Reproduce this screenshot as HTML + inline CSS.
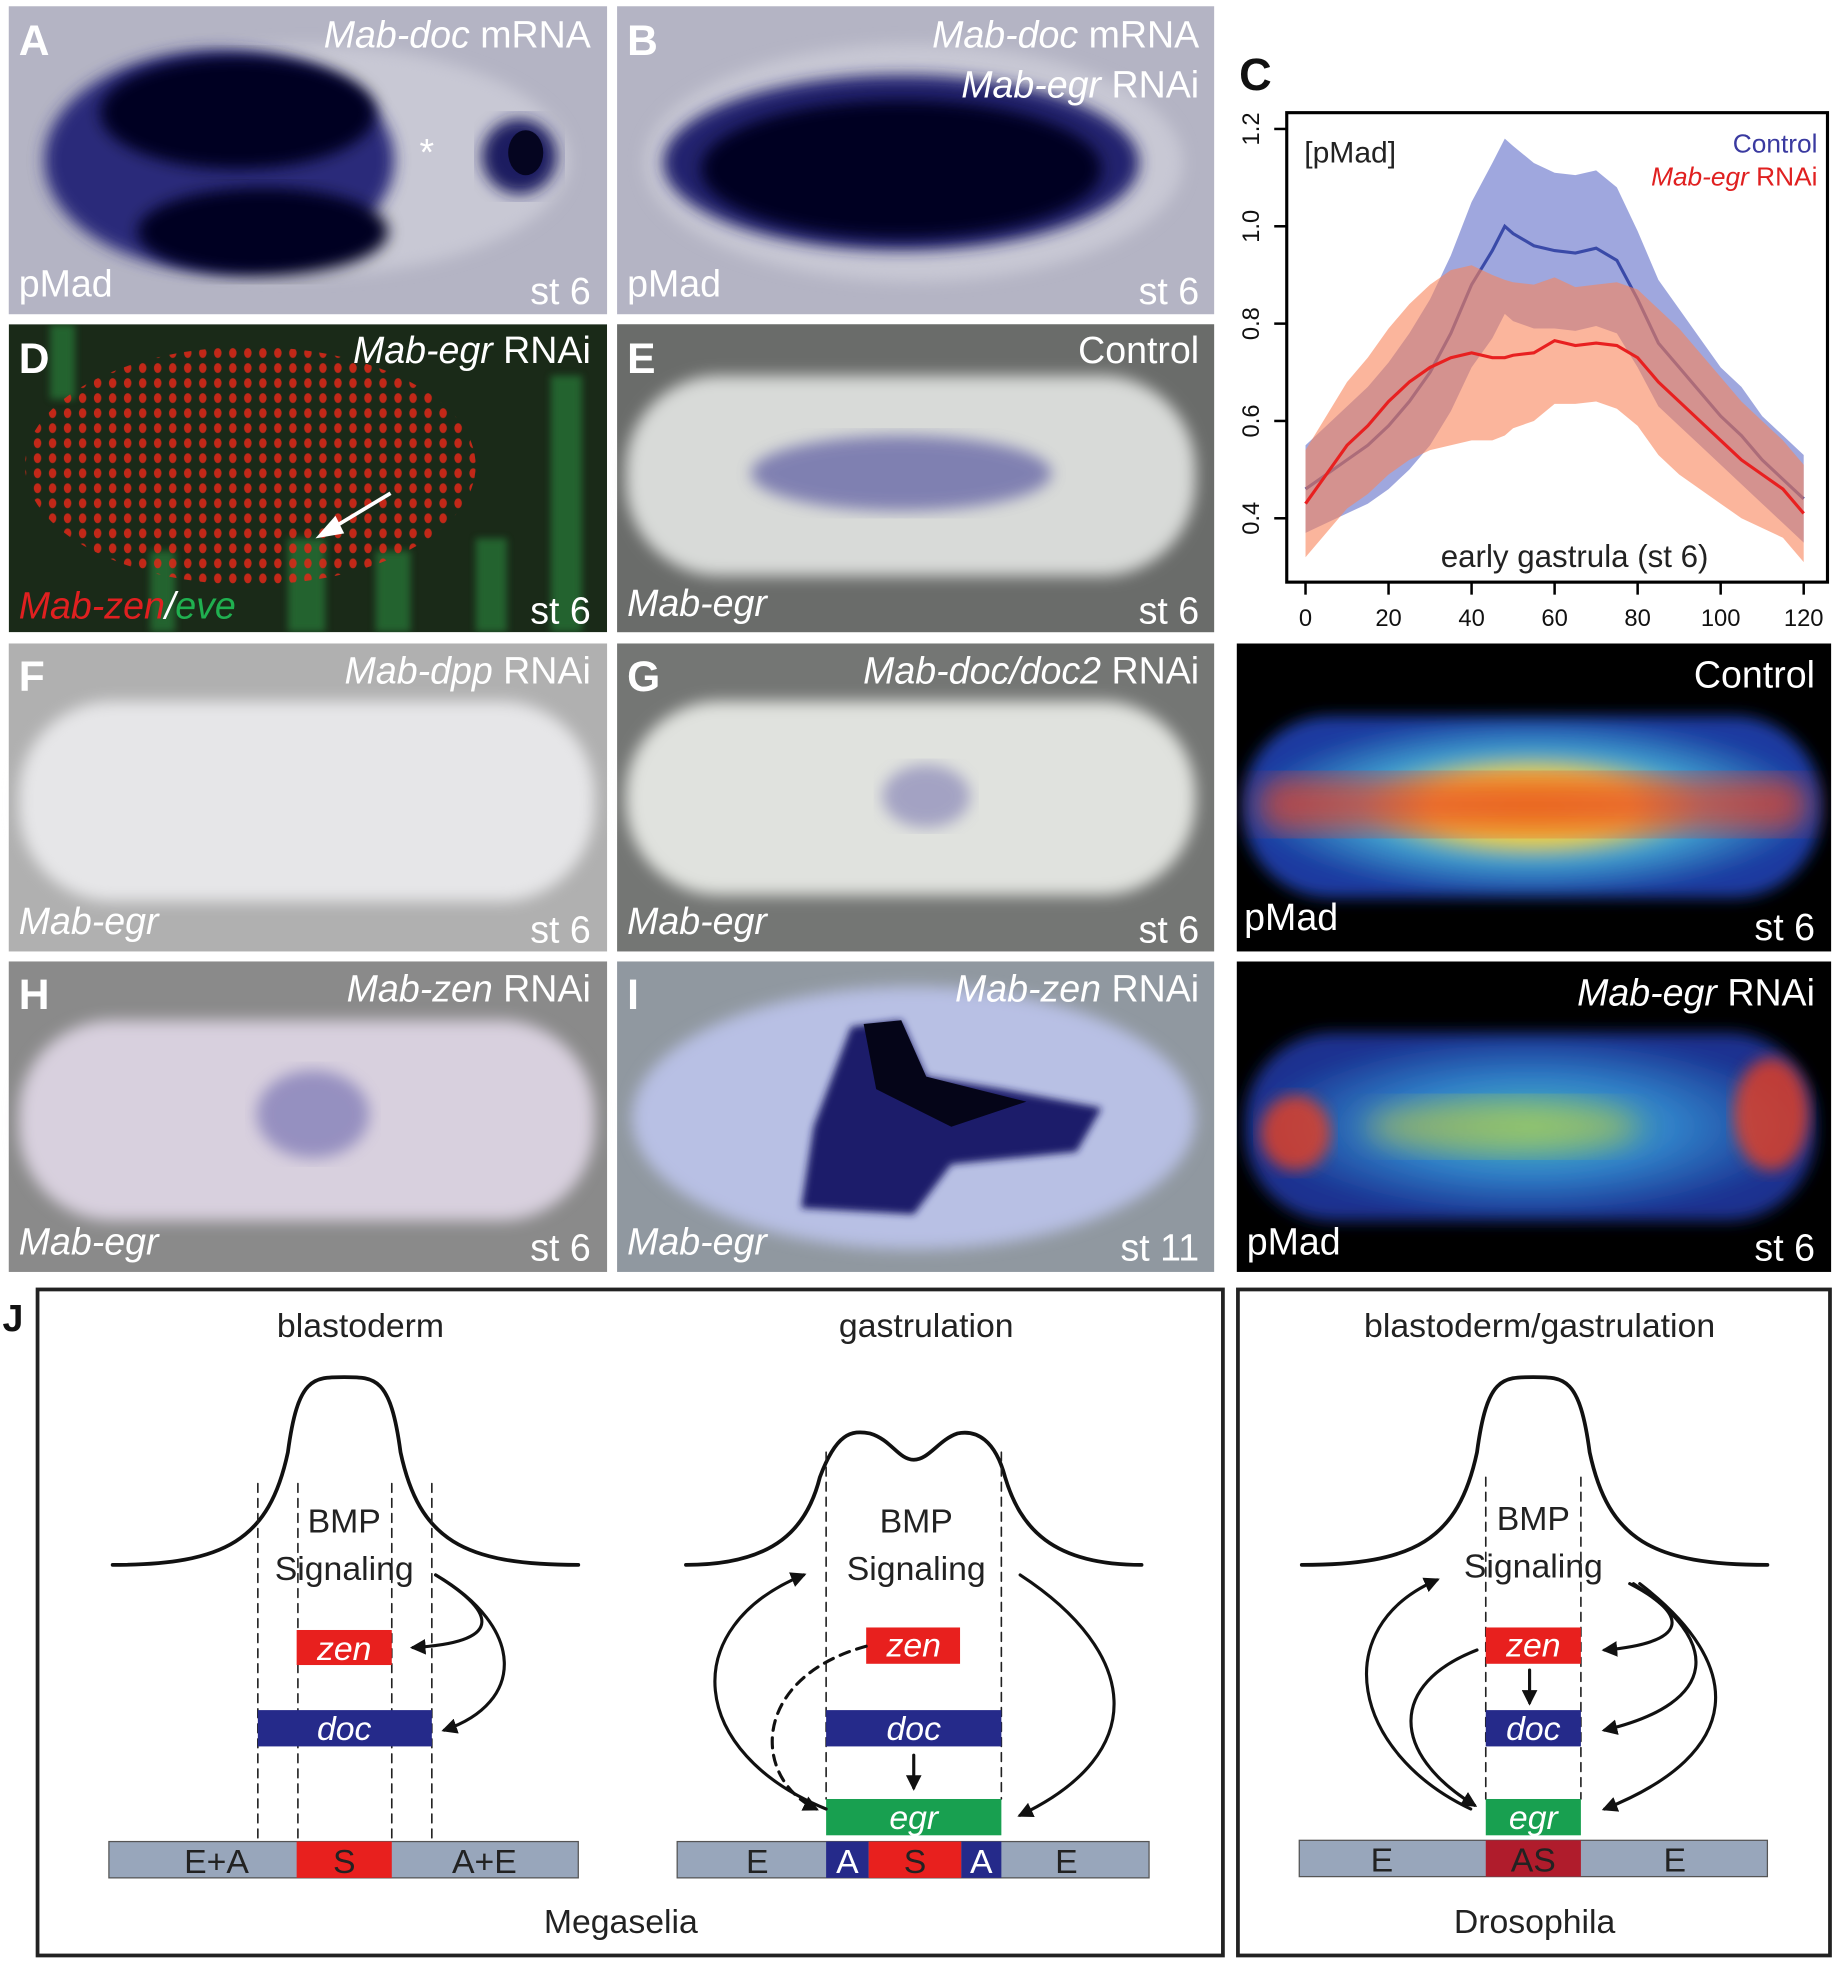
<!DOCTYPE html>
<html><head><meta charset="utf-8"><style>
html,body{margin:0;padding:0;background:#fff;}
svg{display:block;font-family:"Liberation Sans",sans-serif;}
.lbl{font-weight:bold;fill:#fff;font-size:34px;}
.wt{fill:#fff;font-size:30px;}
.it{font-style:italic;}
.jt{font-size:27px;fill:#222;}
</style></head><body>
<svg id="fig" width="1840" height="1968" viewBox="0 0 1470 1572" preserveAspectRatio="none">
<defs>
<filter id="blur6"><feGaussianBlur stdDeviation="6"/></filter>
<filter id="blur12"><feGaussianBlur stdDeviation="12"/></filter>
<filter id="blur3"><feGaussianBlur stdDeviation="3"/></filter>
<radialGradient id="heatC" cx="50%" cy="50%" r="50%"><stop offset="0" stop-color="#f0c020"/><stop offset="0.35" stop-color="#f0d040"/><stop offset="0.6" stop-color="#40a0d0"/><stop offset="1" stop-color="#1a3aa0"/></radialGradient>
<radialGradient id="heatR" cx="50%" cy="50%" r="50%"><stop offset="0" stop-color="#50c0b0"/><stop offset="0.5" stop-color="#3080c8"/><stop offset="1" stop-color="#1a3090"/></radialGradient>
<pattern id="dots" width="12" height="12" patternUnits="userSpaceOnUse"><ellipse cx="6" cy="6" rx="3" ry="4" fill="#e02818"/></pattern>
<marker id="ah" viewBox="0 0 10 10" refX="8" refY="5" markerWidth="5" markerHeight="5" orient="auto"><path d="M0,0 L10,5 L0,10 z" fill="#111"/></marker>
<clipPath id="clipD"><rect x="7" y="259" width="478" height="246"/></clipPath>
<clipPath id="clipHC"><rect x="988" y="514" width="475" height="246"/></clipPath>
<clipPath id="clipHR"><rect x="988" y="768" width="475" height="248"/></clipPath>
</defs>

<!-- Panel A -->
<g>
<rect x="7" y="5" width="478" height="246" fill="#b4b4c4"/>
<ellipse cx="245" cy="128" rx="210" ry="92" fill="#c8c8d4" filter="url(#blur6)"/>
<ellipse cx="175" cy="128" rx="140" ry="88" fill="#2a2a7a" filter="url(#blur6)"/>
<ellipse cx="190" cy="90" rx="110" ry="45" fill="#050520" filter="url(#blur6)"/>
<ellipse cx="210" cy="185" rx="100" ry="35" fill="#050520" filter="url(#blur6)"/>
<ellipse cx="415" cy="125" rx="30" ry="30" fill="#1a1a60" filter="url(#blur6)"/>
<ellipse cx="420" cy="122" rx="14" ry="18" fill="#050520"/>
<text x="341" y="132" class="wt" font-size="34" text-anchor="middle">*</text>
<text x="15" y="44" class="lbl">A</text>
<text x="472" y="38" class="wt" text-anchor="end"><tspan class="it">Mab-doc</tspan> mRNA</text>
<text x="15" y="237" class="wt">pMad</text>
<text x="472" y="243" class="wt" text-anchor="end">st 6</text>
</g>
<!-- Panel B -->
<g>
<rect x="493" y="5" width="477" height="246" fill="#b4b4c4"/>
<ellipse cx="730" cy="130" rx="215" ry="95" fill="#c8c8d4" filter="url(#blur6)"/>
<ellipse cx="720" cy="130" rx="190" ry="70" fill="#22226e" filter="url(#blur6)"/>
<ellipse cx="720" cy="135" rx="160" ry="55" fill="#050520" filter="url(#blur6)"/>
<text x="501" y="44" class="lbl">B</text>
<text x="958" y="38" class="wt" text-anchor="end"><tspan class="it">Mab-doc</tspan> mRNA</text>
<text x="958" y="78" class="wt" text-anchor="end"><tspan class="it">Mab-egr</tspan> RNAi</text>
<text x="501" y="237" class="wt">pMad</text>
<text x="958" y="243" class="wt" text-anchor="end">st 6</text>
</g>
<!-- Panel D -->
<g clip-path="url(#clipD)">
<rect x="7" y="259" width="478" height="246" fill="#1a2a18"/>
<g fill="#2a8a40" opacity="0.6" filter="url(#blur3)">
<rect x="40" y="259" width="20" height="60"/><rect x="230" y="430" width="30" height="75"/><rect x="300" y="440" width="28" height="65"/><rect x="380" y="430" width="25" height="75"/><rect x="440" y="300" width="25" height="205"/><rect x="120" y="440" width="20" height="65"/>
</g>
<ellipse cx="200" cy="372" rx="180" ry="95" fill="url(#dots)" opacity="0.85"/>
<line x1="312" y1="394" x2="262" y2="424" stroke="#fff" stroke-width="3"/>
<polygon points="252,430 268,412 275,426" fill="#fff"/>
<text x="15" y="298" class="lbl">D</text>
<text x="472" y="290" class="wt" text-anchor="end"><tspan class="it">Mab-egr</tspan> RNAi</text>
<text x="15" y="494" class="wt it"><tspan fill="#e02020">Mab-zen</tspan><tspan fill="#fff">/</tspan><tspan fill="#20b050">eve</tspan></text>
<text x="472" y="498" class="wt" text-anchor="end">st 6</text>
</g>
<!-- Panel E -->
<g>
<rect x="493" y="259" width="477" height="246" fill="#6a6c6a"/>
<rect x="500" y="300" width="455" height="160" rx="75" fill="#d8dad8" filter="url(#blur6)"/>
<ellipse cx="720" cy="378" rx="120" ry="30" fill="#6a6aa8" opacity="0.8" filter="url(#blur6)"/>
<text x="501" y="298" class="lbl">E</text>
<text x="958" y="290" class="wt" text-anchor="end">Control</text>
<text x="501" y="492" class="wt it">Mab-egr</text>
<text x="958" y="498" class="wt" text-anchor="end">st 6</text>
</g>
<!-- Panel F -->
<g>
<rect x="7" y="514" width="478" height="246" fill="#b0b0b0"/>
<rect x="15" y="560" width="460" height="160" rx="75" fill="#e6e6e8" filter="url(#blur6)"/>
<text x="15" y="552" class="lbl">F</text>
<text x="472" y="546" class="wt" text-anchor="end"><tspan class="it">Mab-dpp</tspan> RNAi</text>
<text x="15" y="746" class="wt it">Mab-egr</text>
<text x="472" y="753" class="wt" text-anchor="end">st 6</text>
</g>
<!-- Panel G -->
<g>
<rect x="493" y="514" width="477" height="246" fill="#747674"/>
<rect x="500" y="560" width="455" height="155" rx="75" fill="#e0e2de" filter="url(#blur6)"/>
<ellipse cx="740" cy="636" rx="35" ry="25" fill="#8a88b8" opacity="0.7" filter="url(#blur6)"/>
<text x="501" y="552" class="lbl">G</text>
<text x="958" y="546" class="wt" text-anchor="end"><tspan class="it">Mab-doc/doc2</tspan> RNAi</text>
<text x="501" y="746" class="wt it">Mab-egr</text>
<text x="958" y="753" class="wt" text-anchor="end">st 6</text>
</g>
<!-- Heat control -->
<g clip-path="url(#clipHC)">
<rect x="988" y="514" width="475" height="246" fill="#000"/>
<rect x="993" y="572" width="462" height="145" rx="70" fill="url(#heatC)" filter="url(#blur6)"/>
<rect x="1005" y="620" width="440" height="45" rx="20" fill="#e84020" opacity="0.7" filter="url(#blur12)"/>
<text x="1450" y="549" class="wt" text-anchor="end">Control</text>
<text x="994" y="743" class="wt">pMad</text>
<text x="1450" y="751" class="wt" text-anchor="end">st 6</text>
</g>
<!-- Panel H -->
<g>
<rect x="7" y="768" width="478" height="248" fill="#8a8a8a"/>
<rect x="15" y="815" width="460" height="160" rx="75" fill="#d8d0de" filter="url(#blur6)"/>
<ellipse cx="250" cy="890" rx="45" ry="35" fill="#7a74b4" opacity="0.7" filter="url(#blur6)"/>
<text x="15" y="806" class="lbl">H</text>
<text x="472" y="800" class="wt" text-anchor="end"><tspan class="it">Mab-zen</tspan> RNAi</text>
<text x="15" y="1002" class="wt it">Mab-egr</text>
<text x="472" y="1007" class="wt" text-anchor="end">st 6</text>
</g>
<!-- Panel I -->
<g>
<rect x="493" y="768" width="477" height="248" fill="#9098a0"/>
<ellipse cx="730" cy="893" rx="225" ry="105" fill="#b8c0e4" filter="url(#blur6)"/>
<path d="M680,820 L720,815 L740,860 L800,870 L880,885 L860,920 L760,930 L730,970 L640,965 L650,900 Z" fill="#1a1a6a" filter="url(#blur3)"/>
<path d="M690,818 L720,815 L740,860 L820,880 L760,900 L700,870 Z" fill="#050518"/>
<text x="501" y="806" class="lbl">I</text>
<text x="958" y="800" class="wt" text-anchor="end"><tspan class="it">Mab-zen</tspan> RNAi</text>
<text x="501" y="1002" class="wt it">Mab-egr</text>
<text x="958" y="1007" class="wt" text-anchor="end">st 11</text>
</g>
<!-- Heat RNAi -->
<g clip-path="url(#clipHR)">
<rect x="988" y="768" width="475" height="248" fill="#000"/>
<rect x="995" y="825" width="455" height="150" rx="70" fill="url(#heatR)" filter="url(#blur6)"/>
<ellipse cx="1035" cy="905" rx="28" ry="30" fill="#e84020" opacity="0.8" filter="url(#blur6)"/>
<ellipse cx="1415" cy="890" rx="30" ry="45" fill="#e84020" opacity="0.8" filter="url(#blur6)"/>
<ellipse cx="1200" cy="900" rx="110" ry="22" fill="#c0c840" opacity="0.6" filter="url(#blur12)"/>
<text x="1450" y="803" class="wt" text-anchor="end"><tspan class="it">Mab-egr</tspan> RNAi</text>
<text x="996" y="1002" class="wt">pMad</text>
<text x="1450" y="1007" class="wt" text-anchor="end">st 6</text>
</g>

<!-- Chart C -->
<g id="chart">
<text x="990" y="72" font-size="36" font-weight="bold" fill="#111">C</text>
<rect x="1028" y="90" width="432" height="375" fill="#fff" stroke="#000" stroke-width="2.5"/>
<g id="bands"></g>
<text x="1042" y="130" font-size="24" fill="#222">[pMad]</text>
<text x="1452" y="122" font-size="21" fill="#3a3aa0" text-anchor="end">Control</text>
<text x="1452" y="148" font-size="21" fill="#e02020" text-anchor="end"><tspan font-style="italic">Mab-egr</tspan> RNAi</text>
<text x="1258" y="453" font-size="25" fill="#222" text-anchor="middle">early gastrula (st 6)</text>
<g id="axes"></g>
</g>

<!-- Panel J -->
<g stroke-linecap="round">
<text x="2" y="1063" font-size="30" font-weight="bold" fill="#111">J</text>
<rect x="30" y="1030" width="947" height="532" fill="none" stroke="#222" stroke-width="3"/>
<rect x="989" y="1030" width="473" height="532" fill="none" stroke="#222" stroke-width="3"/>
<text x="288" y="1068" class="jt" text-anchor="middle">blastoderm</text>
<text x="740" y="1068" class="jt" text-anchor="middle">gastrulation</text>
<text x="1230" y="1068" class="jt" text-anchor="middle">blastoderm/gastrulation</text>
<text x="496" y="1544" class="jt" text-anchor="middle">Megaselia</text>
<text x="1226" y="1544" class="jt" text-anchor="middle">Drosophila</text>
<path d="M90,1250 C180,1250 215,1230 230,1160 C238,1100 250,1100 275,1100 C300,1100 312,1100 320,1160 C335,1230 370,1250 462,1250" fill="none" stroke="#111" stroke-width="3"/>
<path d="M548,1250 C620,1250 645,1220 655,1180 C668,1145 680,1142 695,1145 C712,1150 718,1166 730,1166 C742,1166 750,1150 765,1145 C780,1142 795,1150 803,1180 C815,1220 840,1250 912,1250" fill="none" stroke="#111" stroke-width="3"/>
<path d="M1040,1250 C1130,1250 1165,1230 1180,1160 C1188,1100 1200,1100 1225,1100 C1250,1100 1262,1100 1270,1160 C1285,1230 1320,1250 1412,1250" fill="none" stroke="#111" stroke-width="3"/>
<g stroke="#222" stroke-width="1.3" stroke-dasharray="7,5" fill="none">
<line x1="206" y1="1185" x2="206" y2="1471"/><line x1="238" y1="1185" x2="238" y2="1471"/><line x1="313" y1="1185" x2="313" y2="1471"/><line x1="345" y1="1185" x2="345" y2="1471"/>
<line x1="660" y1="1160" x2="660" y2="1437"/><line x1="800" y1="1160" x2="800" y2="1437"/>
<line x1="1187" y1="1180" x2="1187" y2="1437"/><line x1="1263" y1="1180" x2="1263" y2="1437"/>
</g>
<g font-size="27" text-anchor="middle" fill="#222">
<text x="275" y="1224">BMP</text><text x="275" y="1262">Signaling</text>
<text x="732" y="1224">BMP</text><text x="732" y="1262">Signaling</text>
<text x="1225" y="1222">BMP</text><text x="1225" y="1260">Signaling</text>
</g>
<g font-size="27" font-style="italic" fill="#fff" text-anchor="middle">
<rect x="237" y="1302" width="76" height="28" fill="#e8201e"/><text x="275" y="1326">zen</text>
<rect x="206" y="1366" width="139" height="29" fill="#252a8a"/><text x="275" y="1390">doc</text>
<rect x="692" y="1300" width="75" height="29" fill="#e8201e"/><text x="730" y="1323">zen</text>
<rect x="660" y="1366" width="140" height="29" fill="#252a8a"/><text x="730" y="1390">doc</text>
<rect x="660" y="1437" width="140" height="29" fill="#18a050"/><text x="730" y="1461">egr</text>
<rect x="1187" y="1300" width="76" height="29" fill="#e8201e"/><text x="1225" y="1323">zen</text>
<rect x="1187" y="1366" width="76" height="29" fill="#252a8a"/><text x="1225" y="1390">doc</text>
<rect x="1187" y="1437" width="76" height="29" fill="#18a050"/><text x="1225" y="1461">egr</text>
</g>
<g font-size="27" text-anchor="middle">
<rect x="87" y="1471" width="375" height="29" fill="#98a6bb" stroke="#555" stroke-width="1"/>
<rect x="237" y="1471" width="76" height="29" fill="#e8201e"/>
<text x="173" y="1496" fill="#222">E+A</text><text x="275" y="1496" fill="#222">S</text><text x="387" y="1496" fill="#222">A+E</text>
<rect x="541" y="1471" width="377" height="29" fill="#98a6bb" stroke="#555" stroke-width="1"/>
<rect x="660" y="1471" width="34" height="29" fill="#252a8a"/><rect x="694" y="1471" width="74" height="29" fill="#e8201e"/><rect x="768" y="1471" width="32" height="29" fill="#252a8a"/>
<text x="605" y="1496" fill="#222">E</text><text x="677" y="1496" fill="#fff">A</text><text x="731" y="1496" fill="#222">S</text><text x="784" y="1496" fill="#fff">A</text><text x="852" y="1496" fill="#222">E</text>
<rect x="1038" y="1470" width="374" height="29" fill="#98a6bb" stroke="#555" stroke-width="1"/>
<rect x="1187" y="1470" width="76" height="29" fill="#b01c2c"/>
<text x="1104" y="1495" fill="#222">E</text><text x="1225" y="1495" fill="#222">AS</text><text x="1338" y="1495" fill="#222">E</text>
</g>
<g fill="none" stroke="#111" stroke-width="2.5" marker-end="url(#ah)">
<path d="M348,1258 C400,1290 400,1312 330,1316"/>
<path d="M348,1258 C420,1300 420,1360 355,1382"/>
<path d="M660,1445 C550,1400 540,1300 642,1258"/>
<path d="M815,1258 C910,1320 920,1400 815,1450"/>
<path d="M692,1315 C600,1340 600,1420 652,1445" stroke-dasharray="8,6"/>
<path d="M730,1402 L730,1428"/>
<path d="M1175,1445 C1080,1400 1060,1300 1148,1262"/>
<path d="M1180,1318 C1110,1345 1110,1400 1178,1442"/>
<path d="M1302,1265 C1350,1290 1350,1312 1282,1318"/>
<path d="M1305,1265 C1375,1310 1375,1360 1282,1382"/>
<path d="M1310,1265 C1395,1330 1395,1400 1282,1445"/>
<path d="M1222,1334 L1222,1360"/>
</g>
</g>
</svg>
<script>
const xPos = [0,5,10,15,20,25,30,35,40,45,48,50,55,60,65,70,75,80,85,90,95,100,105,110,115,120];
const controlMean = [0.46,0.49,0.52,0.55,0.59,0.64,0.70,0.78,0.88,0.95,1.00,0.985,0.96,0.95,0.945,0.955,0.93,0.85,0.76,0.71,0.66,0.61,0.57,0.52,0.48,0.44];
const controlSd = [0.09,0.10,0.11,0.12,0.13,0.14,0.15,0.16,0.17,0.18,0.18,0.18,0.17,0.16,0.16,0.16,0.15,0.14,0.13,0.12,0.11,0.10,0.10,0.09,0.09,0.09];
const rnaiMean = [0.43,0.49,0.55,0.59,0.64,0.68,0.71,0.73,0.74,0.73,0.73,0.735,0.74,0.765,0.755,0.76,0.755,0.73,0.68,0.64,0.60,0.56,0.52,0.49,0.46,0.41];
const rnaiSd = [0.11,0.12,0.13,0.14,0.15,0.16,0.17,0.18,0.18,0.17,0.16,0.15,0.14,0.13,0.12,0.12,0.13,0.14,0.15,0.15,0.14,0.13,0.12,0.11,0.10,0.10];
const xTicks = [0,20,40,60,80,100,120];
const yTicks = [0.4,0.6,0.8,1.0,1.2];

const NS='http://www.w3.org/2000/svg';
function sx(v){return 1043 + v*(1441-1043)/120;}
function sy(v){return 414 - (v-0.4)*(414-103)/0.8;}
function band(mean,sd){
  let up=xPos.map((x,i)=>sx(x)+','+sy(mean[i]+sd[i]));
  let lo=xPos.map((x,i)=>sx(x)+','+sy(mean[i]-sd[i])).reverse();
  return 'M'+up.join(' L')+' L'+lo.join(' L')+' Z';
}
function line(mean){return 'M'+xPos.map((x,i)=>sx(x)+','+sy(mean[i])).join(' L');}
const bands=document.getElementById('bands');
function add(parent,tag,attrs){const e=document.createElementNS(NS,tag);for(const k in attrs)e.setAttribute(k,attrs[k]);parent.appendChild(e);return e;}
let e;
e=add(bands,'path',{d:band(controlMean,controlSd),fill:'#8e98d8',opacity:'0.85'});


e=add(bands,'path',{d:line(controlMean),fill:'none',stroke:'#3a4aa8','stroke-width':'2.5'});


e=add(bands,'path',{d:band(rnaiMean,rnaiSd),fill:'#f8845a',opacity:'0.6'});


e=add(bands,'path',{d:line(rnaiMean),fill:'none',stroke:'#e82020','stroke-width':'2.5'});


const axes=document.getElementById('axes');
xTicks.forEach(t=>{
  add(axes,'line',{x1:sx(t),x2:sx(t),y1:465,y2:475,stroke:'#000','stroke-width':2});
  e=add(axes,'text',{x:sx(t),y:500,'font-size':19,'text-anchor':'middle',fill:'#111'});
  e.textContent=t;
  
  
});
yTicks.forEach(t=>{
  add(axes,'line',{x1:1018,x2:1028,y1:sy(t),y2:sy(t),stroke:'#000','stroke-width':2});
  e=add(axes,'text',{x:0,y:0,'font-size':19,'text-anchor':'middle',fill:'#111',transform:'translate(1006,'+sy(t)+') rotate(-90)'});
  e.textContent=t.toFixed(1);
  
  
});
</script>
</body></html>
